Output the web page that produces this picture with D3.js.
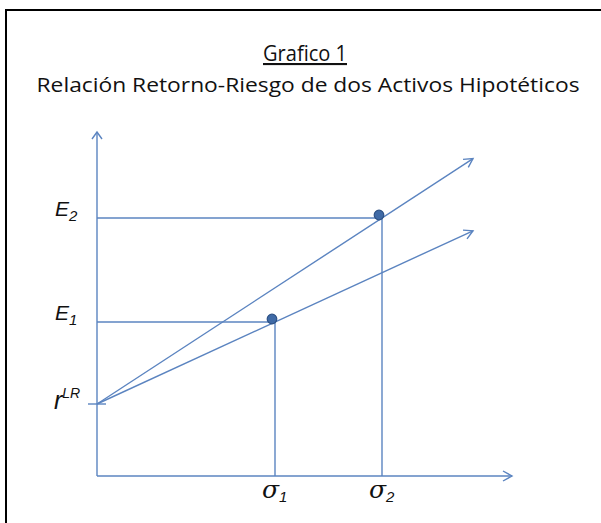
<!DOCTYPE html>
<html>
<head>
<meta charset="utf-8">
<script src="https://cdn.jsdelivr.net/npm/d3@7"></script>
<style>
  body { margin: 0; background: #fff; }
  svg { display: block; }
</style>
</head>
<body>
<div id="chart"></div>
<script>
// values (arbitrary units)
var rf = 3.6;                       // r^LR
var assets = ["1", "2"];
var sigmas = [8.9, 14.25];
var returns = [7.7, 12.9];
var lineEnd = 18.8;                 // x where the two rays stop
var xMax = 20.75, yMax = 17.2;      // axis arrow tips

function init() {
  var w = 601, h = 523;
  var ox = 97, oy = 476;
  var blue = "#5b84c0";

  var svg = d3.select("#chart").append("svg")
    .attr("width", w).attr("height", h);

  // frame (top and left only)
  svg.append("line").attr("x1", 5).attr("x2", w).attr("y1", 10).attr("y2", 10)
    .attr("stroke", "#000").attr("stroke-width", 2);
  svg.append("line").attr("x1", 6).attr("x2", 6).attr("y1", 10).attr("y2", h)
    .attr("stroke", "#000").attr("stroke-width", 2);

  // titles
  svg.append("text")
    .attr("x", 305).attr("y", 61)
    .attr("text-anchor", "middle")
    .attr("font-family", "Open Sans, sans-serif")
    .attr("font-size", "21px")
    .attr("text-decoration", "underline")
    .attr("fill", "#111")
    .attr("textLength", 84).attr("lengthAdjust", "spacingAndGlyphs")
    .text("Grafico 1");
  svg.append("text")
    .attr("x", 308).attr("y", 92)
    .attr("text-anchor", "middle")
    .attr("font-family", "Open Sans, sans-serif")
    .attr("font-size", "20px")
    .attr("fill", "#111")
    .attr("textLength", 543).attr("lengthAdjust", "spacingAndGlyphs")
    .text("Relación Retorno-Riesgo de dos Activos Hipotéticos");

  var xScale = d3.scaleLinear().domain([0, xMax]).range([ox, 512]);
  var yScale = d3.scaleLinear().domain([0, yMax]).range([oy, 132]);

  var g = svg.append("g")
    .attr("fill", "none")
    .attr("stroke", blue)
    .attr("stroke-width", 1.4);

  // axes
  g.append("line")
    .attr("x1", xScale(0)).attr("y1", yScale(0))
    .attr("x2", xScale(xMax)).attr("y2", yScale(0));
  g.append("line")
    .attr("x1", xScale(0)).attr("y1", yScale(0))
    .attr("x2", xScale(0)).attr("y2", yScale(yMax));
  g.append("path")
    .attr("d", "M" + (xScale(xMax) - 9) + "," + (yScale(0) - 5) +
      "L" + xScale(xMax) + "," + yScale(0) +
      "L" + (xScale(xMax) - 9) + "," + (yScale(0) + 5));
  g.append("path")
    .attr("d", "M" + (xScale(0) - 5) + "," + (yScale(yMax) + 7) +
      "L" + xScale(0) + "," + yScale(yMax) +
      "L" + (xScale(0) + 5) + "," + (yScale(yMax) + 7));

  // r^LR tick
  g.append("line")
    .attr("x1", xScale(0) - 9).attr("x2", xScale(0) + 9)
    .attr("y1", yScale(rf)).attr("y2", yScale(rf));

  assets.forEach(function(a, i) {
    var sx = xScale(sigmas[i]), sy = yScale(returns[i]);
    // guide lines
    g.append("line")
      .attr("x1", xScale(0)).attr("y1", sy)
      .attr("x2", sx).attr("y2", sy);
    g.append("line")
      .attr("x1", sx).attr("y1", sy)
      .attr("x2", sx).attr("y2", yScale(0));

    // ray from r^LR through the asset
    var slope = (returns[i] - rf) / sigmas[i];
    var ex = xScale(lineEnd), ey = yScale(rf + slope * lineEnd);
    g.append("line")
      .attr("x1", xScale(0)).attr("y1", yScale(rf))
      .attr("x2", ex).attr("y2", ey);
    var ang = Math.atan2(ey - yScale(rf), ex - xScale(0));
    var hl = 10, ha = 0.5;
    g.append("path")
      .attr("d", "M" + (ex - hl * Math.cos(ang - ha)) + "," + (ey - hl * Math.sin(ang - ha)) +
        "L" + ex + "," + ey +
        "L" + (ex - hl * Math.cos(ang + ha)) + "," + (ey - hl * Math.sin(ang + ha)));

    // labels
    var el = svg.append("text")
      .attr("x", 55).attr("y", sy - 2)
      .attr("font-family", "Liberation Sans, Arial, sans-serif")
      .attr("font-style", "italic")
      .attr("font-size", "21px")
      .attr("fill", "#111")
      .text("E");
    el.append("tspan").attr("dy", 5).attr("font-size", "15px").text(a);

    var sl = svg.append("text")
      .attr("x", sx - 13).attr("y", 498)
      .attr("font-family", "DejaVu Serif, serif")
      .attr("font-style", "italic")
      .attr("font-size", "25px")
      .attr("fill", "#111")
      .text("σ");
    sl.append("tspan").attr("dy", 4).attr("font-size", "15px")
      .attr("font-family", "Liberation Sans, Arial, sans-serif").text(a);
  });

  // the two asset points
  svg.selectAll(".pt")
    .data(assets)
    .enter().append("circle")
    .attr("class", "pt")
    .attr("cx", function(d, i) { return xScale(sigmas[i]) - 3; })
    .attr("cy", function(d, i) { return yScale(returns[i]) - 3; })
    .attr("r", 4.8)
    .attr("fill", "#3f6aa6")
    .attr("stroke", "#2d5185")
    .attr("stroke-width", 1.2);

  var rl = svg.append("text")
    .attr("x", 54).attr("y", 409)
    .attr("font-family", "Liberation Sans, Arial, sans-serif")
    .attr("font-style", "italic")
    .attr("font-size", "25px")
    .attr("fill", "#111")
    .text("r");
  rl.append("tspan").attr("dy", -11).attr("font-size", "14px").text("LR");
}

window.onload = init;
</script>
</body>
</html>
